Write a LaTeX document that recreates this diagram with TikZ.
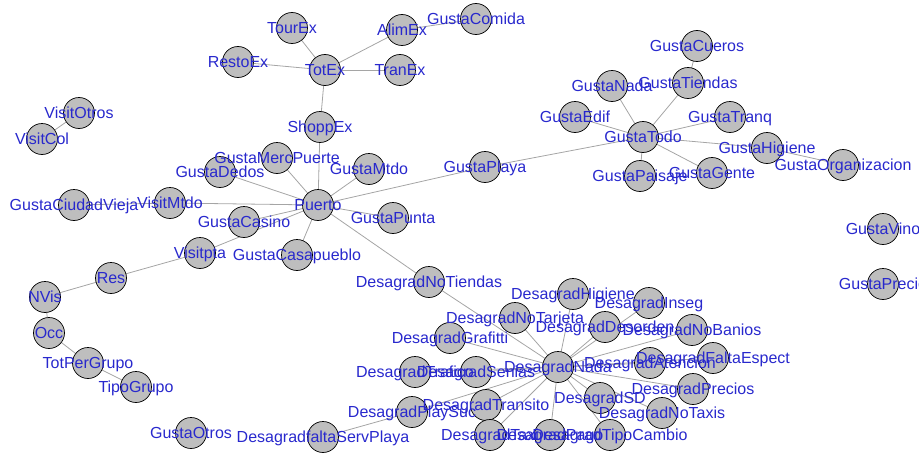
\documentclass[tikz,border=0pt]{standalone}
\usepackage{fontspec}
\setmainfont{Liberation Sans}
\usetikzlibrary{backgrounds}
\definecolor{lblblue}{RGB}{40,40,205}
\definecolor{vfill}{RGB}{190,190,190}
\definecolor{edgegray}{RGB}{165,165,165}
\tikzset{
  vtx/.style={circle,draw=black,line width=0.7pt,fill=vfill,minimum size=31pt,inner sep=0pt},
  lbl/.style={text=lblblue,font=\fontsize{16}{16}\selectfont,inner sep=0pt,anchor=base,yshift=-5.7pt},
  edg/.style={draw=edgegray,line width=0.8pt}
}
\begin{document}
\begin{tikzpicture}[x=1pt,y=-1pt]
\useasboundingbox (0,0) rectangle (919,455);
\foreach \n/\x/\y in {
TourEx/292/28, AlimEx/402/30, GustaComida/476/19, RestoEx/238/62, TotEx/325/70,
TranEx/400/70, ShoppEx/320/127, VisitOtros/79/113, VisitCol/42/139,
GustaMercPuerte/277/158, GustaDedos/220/172, GustaMtdo/369/169,
GustaCiudadVieja/74/205, VisitMtdo/170/203, Puerto/318/205, GustaPunta/393/218,
GustaCasino/244/222, GustaCasapueblo/297/255, Visitpta/200/253, Res/111/278,
NVis/45/297, Occ/49/333, TotPerGrupo/88/363, TipoGrupo/136/387, GustaOtros/191/433,
DesagradfaltaServPlaya/323/437, DesagradPlaySuc/412/412, GustaPlaya/485/167,
GustaTodo/643/137, GustaEdif/575/117, GustaNada/612/86, GustaTiendas/688/83,
GustaCueros/697/46, GustaTranq/730/117, GustaHigiene/767/148,
GustaOrganizacion/843/165, GustaPaisaje/640/176, GustaGente/712/173,
GustaVino/883/229, GustaPrecio/883/284, DesagradNoTiendas/429/282,
DesagradHigiene/573/294, DesagradInseg/649/303, DesagradNoTarjeta/515/318,
DesagradDesorden/605/327, DesagradNoBanios/692/330, DesagradGrafitti/450/338,
DesagradNada/558/367, DesagradTrafico/415/372, DesagradSenias/476/372,
DesagradAtencion/650/363, DesagradFaltaEspect/713/358, DesagradPrecios/693/389,
DesagradSD/600/398, DesagradNoTaxis/662/413, DesagradTransito/486/405,
DesagradTaxi/490/435, DesagradPago/550/435, DesagradTipoCambio/610/435}
{\node[vtx] (\n) at (\x,\y) {};}
\begin{scope}[on background layer]
\foreach \a/\b in {
TotEx/TourEx, TotEx/AlimEx, TotEx/RestoEx, TotEx/TranEx, TotEx/ShoppEx,
AlimEx/GustaComida, ShoppEx/Puerto, VisitOtros/VisitCol,
Puerto/GustaMercPuerte, Puerto/GustaDedos, Puerto/GustaMtdo, Puerto/VisitMtdo,
VisitMtdo/GustaCiudadVieja, Puerto/GustaPunta, Puerto/GustaCasino,
Puerto/GustaCasapueblo, Puerto/Visitpta, Visitpta/Res, Res/NVis, NVis/Occ,
Occ/TotPerGrupo, TotPerGrupo/TipoGrupo, Puerto/GustaPlaya, GustaPlaya/GustaTodo,
GustaTodo/GustaEdif, GustaTodo/GustaNada, GustaTodo/GustaTiendas,
GustaTodo/GustaTranq, GustaTodo/GustaHigiene, GustaTodo/GustaPaisaje,
GustaTodo/GustaGente, GustaTiendas/GustaCueros, GustaHigiene/GustaOrganizacion,
Puerto/DesagradNoTiendas, DesagradNoTiendas/DesagradNada,
DesagradNada/DesagradHigiene, DesagradNada/DesagradInseg,
DesagradNada/DesagradNoTarjeta, DesagradNada/DesagradDesorden,
DesagradNada/DesagradNoBanios, DesagradNada/DesagradGrafitti,
DesagradNada/DesagradTrafico, DesagradNada/DesagradSenias,
DesagradNada/DesagradAtencion, DesagradNada/DesagradFaltaEspect,
DesagradNada/DesagradPrecios, DesagradNada/DesagradSD,
DesagradNada/DesagradNoTaxis, DesagradNada/DesagradTransito,
DesagradNada/DesagradTaxi, DesagradNada/DesagradPago,
DesagradNada/DesagradTipoCambio, DesagradNada/DesagradPlaySuc,
DesagradPlaySuc/DesagradfaltaServPlaya}
{\draw[edg] (\a.center) -- (\b.center);}
\end{scope}
\foreach \n in {
TourEx, AlimEx, GustaComida, RestoEx, TotEx, TranEx, ShoppEx, VisitOtros, VisitCol,
GustaMercPuerte, GustaDedos, GustaMtdo, GustaCiudadVieja, VisitMtdo, Puerto,
GustaPunta, GustaCasino, GustaCasapueblo, Visitpta, Res, NVis, Occ, TotPerGrupo,
TipoGrupo, GustaOtros, DesagradfaltaServPlaya, DesagradPlaySuc, GustaPlaya,
GustaTodo, GustaEdif, GustaNada, GustaTiendas, GustaCueros, GustaTranq,
GustaHigiene, GustaOrganizacion, GustaPaisaje, GustaGente, GustaVino, GustaPrecio,
DesagradNoTiendas, DesagradHigiene, DesagradInseg, DesagradNoTarjeta,
DesagradDesorden, DesagradNoBanios, DesagradGrafitti, DesagradNada,
DesagradTrafico, DesagradSenias, DesagradAtencion, DesagradFaltaEspect,
DesagradPrecios, DesagradSD, DesagradNoTaxis, DesagradTransito, DesagradTaxi,
DesagradPago, DesagradTipoCambio}
{\node[lbl] (\n-l) at (\n.center) {\n};}
\end{tikzpicture}
\end{document}
